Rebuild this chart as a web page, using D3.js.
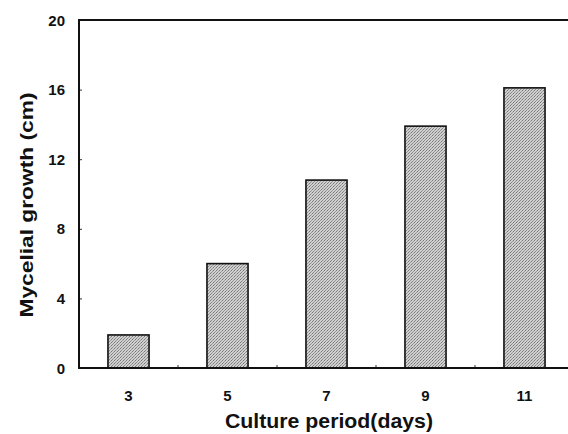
<!DOCTYPE html>
<html>
<head>
<meta charset="utf-8">
<script src="https://cdn.jsdelivr.net/npm/d3@7"></script>
<style>
  body { margin: 0; background: #fff; }
  text { font-family: "Liberation Sans", Arial, sans-serif; font-weight: bold; fill: #111; }
</style>
</head>
<body>
<div id="chart"></div>
<script>
// culture period (days) and mycelial growth (cm)
const days = ["3", "5", "7", "9", "11"];
const growth = [1.9, 6.0, 10.8, 13.9, 16.1];
const yTicks = [0, 4, 8, 12, 16, 20];

const W = 568, H = 434;
const mLeft = 79, mTop = 20, mBottom = 368, mRight = 574;

const svg = d3.select("#chart").append("svg")
    .attr("width", W)
    .attr("height", H);

// dotted halftone look for the bars
const pat = svg.append("defs").append("pattern")
    .attr("id", "dots")
    .attr("width", 3).attr("height", 3)
    .attr("patternUnits", "userSpaceOnUse");
pat.append("rect").attr("width", 3).attr("height", 3).attr("fill", "#d0d0d0");
pat.append("rect").attr("x", 0).attr("y", 0).attr("width", 1).attr("height", 1).attr("fill", "#777");
pat.append("rect").attr("x", 2).attr("y", 1).attr("width", 1).attr("height", 1).attr("fill", "#999");
pat.append("rect").attr("x", 1).attr("y", 2).attr("width", 1).attr("height", 1).attr("fill", "#888");

const xb = d3.scaleBand().domain(days).range([mLeft, mRight]);
const x = d3.scaleBand().domain(days).range([mLeft, mRight])
    .paddingInner(0.585).paddingOuter(0.2925);
const y = d3.scaleLinear().domain([0, 20]).range([mBottom, mTop]);

// bars
svg.selectAll(".bar")
    .data(days)
    .enter().append("rect")
    .attr("class", "bar")
    .attr("x", d => x(d))
    .attr("width", x.bandwidth())
    .attr("y", (d, i) => y(growth[i]))
    .attr("height", (d, i) => y(0) - y(growth[i]))
    .attr("fill", "url(#dots)")
    .attr("stroke", "#111")
    .attr("stroke-width", 1.6);

// y axis (ticks pointing in)
const yAxis = svg.append("g")
    .attr("transform", "translate(" + mLeft + ",0)")
    .call(d3.axisRight(y).tickValues(yTicks).tickSize(3).tickFormat(""));
yAxis.select(".domain").remove();
yAxis.selectAll("line").attr("stroke", "#333");

svg.selectAll(".ylab")
    .data(yTicks)
    .enter().append("text")
    .attr("class", "ylab")
    .attr("x", 65)
    .attr("y", d => y(d) + 5.5)
    .attr("text-anchor", "end")
    .style("font-size", "15px")
    .text(d => d);

// x axis: small ticks between the groups
svg.selectAll("line.sep")
    .data(days.slice(1))
    .enter().append("line")
    .attr("class", "sep")
    .attr("x1", d => xb(d)).attr("x2", d => xb(d))
    .attr("y1", mBottom).attr("y2", mBottom - 3)
    .attr("stroke", "#333");

svg.selectAll(".xlab")
    .data(days)
    .enter().append("text")
    .attr("class", "xlab")
    .attr("x", d => x(d) + x.bandwidth() / 2)
    .attr("y", 401)
    .attr("text-anchor", "middle")
    .style("font-size", "15px")
    .text(d => d);

// frame lines
svg.append("line")
    .attr("x1", mLeft).attr("x2", W).attr("y1", mTop).attr("y2", mTop)
    .attr("stroke", "#111").attr("stroke-width", 2);
svg.append("line")
    .attr("x1", mLeft).attr("x2", W).attr("y1", mBottom).attr("y2", mBottom)
    .attr("stroke", "#111").attr("stroke-width", 2);
svg.append("line")
    .attr("x1", mLeft).attr("x2", mLeft).attr("y1", mTop - 1).attr("y2", mBottom + 1)
    .attr("stroke", "#111").attr("stroke-width", 2);

// titles
svg.append("text")
    .attr("x", 329)
    .attr("y", 428)
    .attr("text-anchor", "middle")
    .attr("textLength", 208)
    .attr("lengthAdjust", "spacingAndGlyphs")
    .style("font-size", "20px")
    .text("Culture period(days)");

svg.append("text")
    .attr("transform", "translate(33,205) rotate(-90)")
    .attr("text-anchor", "middle")
    .attr("textLength", 225)
    .attr("lengthAdjust", "spacingAndGlyphs")
    .style("font-size", "19px")
    .text("Mycelial growth (cm)");
</script>
</body>
</html>
